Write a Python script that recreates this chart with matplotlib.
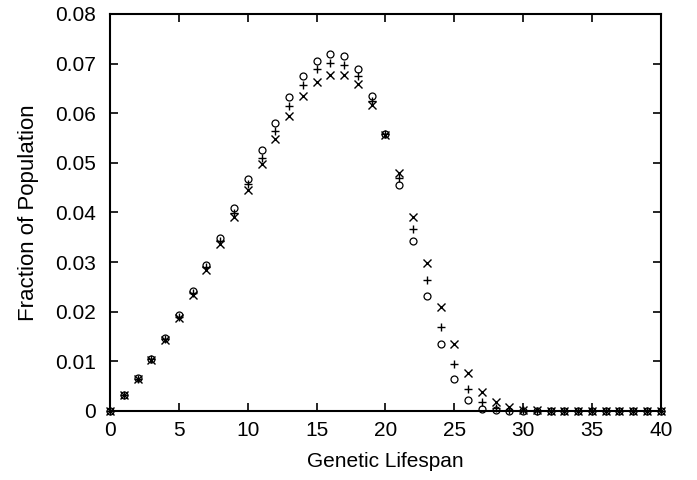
"""Fraction of population vs genetic lifespan, three runs."""

import matplotlib

matplotlib.use("Agg")
import matplotlib.pyplot as plt
import numpy as np

plt.rcParams["font.family"] = ["Liberation Sans", "DejaVu Sans"]

lifespan = np.arange(0, 41)

# circles
frac_a = [0, 0.0033, 0.0066, 0.0105, 0.0146, 0.0193, 0.0242, 0.0294, 0.0349,
          0.0408, 0.0467, 0.0525, 0.0580, 0.0632, 0.0674, 0.0705, 0.0720,
          0.0715, 0.0688, 0.0634, 0.0557, 0.0456, 0.0343, 0.0232, 0.0135,
          0.0064, 0.0022, 0.0004, 0.0001] + [0] * 12
# plus
frac_b = [0, 0.0032, 0.0065, 0.0104, 0.0145, 0.0190, 0.0238, 0.0290, 0.0343,
          0.0399, 0.0457, 0.0510, 0.0565, 0.0615, 0.0657, 0.0688, 0.0701,
          0.0698, 0.0675, 0.0625, 0.0557, 0.0470, 0.0366, 0.0263, 0.0170,
          0.0095, 0.0044, 0.0017, 0.0005, 0.0002, 0.0001] + [0] * 10
# crosses
frac_c = [0, 0.0031, 0.0064, 0.0103, 0.0143, 0.0187, 0.0233, 0.0283, 0.0336,
          0.0390, 0.0445, 0.0497, 0.0548, 0.0594, 0.0634, 0.0662, 0.0677,
          0.0677, 0.0658, 0.0617, 0.0556, 0.0480, 0.0391, 0.0298, 0.0210,
          0.0134, 0.0077, 0.0038, 0.0017, 0.0007, 0.0002, 0.0001] + [0] * 9

fig = plt.figure(figsize=(6.97, 4.8), dpi=100)
ax = fig.add_axes([0.158, 0.144, 0.790, 0.827])

ax.plot(lifespan, frac_a, "o", ms=5, mfc="none", mec="black", mew=0.9,
        clip_on=False)
ax.plot(lifespan, frac_b, "+", ms=6, color="black", mew=1.0, clip_on=False)
ax.plot(lifespan, frac_c, "x", ms=5.5, color="black", mew=1.0, clip_on=False)

ax.set_xlim(0, 40)
ax.set_ylim(0, 0.08)
ax.set_xticks(np.arange(0, 41, 5))
ax.set_yticks(np.arange(0, 0.081, 0.01))
ax.set_yticklabels(["0", "0.01", "0.02", "0.03", "0.04", "0.05", "0.06",
                    "0.07", "0.08"])
ax.tick_params(direction="in", top=True, right=True, length=6, width=1.2,
               labelsize=15)
ax.tick_params(axis="x", pad=7)
ax.tick_params(axis="y", pad=10)
for s in ax.spines.values():
    s.set_linewidth(1.5)

ax.set_xlabel("Genetic Lifespan", fontsize=15, labelpad=9)
ax.set_ylabel("Fraction of Population", fontsize=16, labelpad=12)

fig.savefig("out.png", dpi=100)
